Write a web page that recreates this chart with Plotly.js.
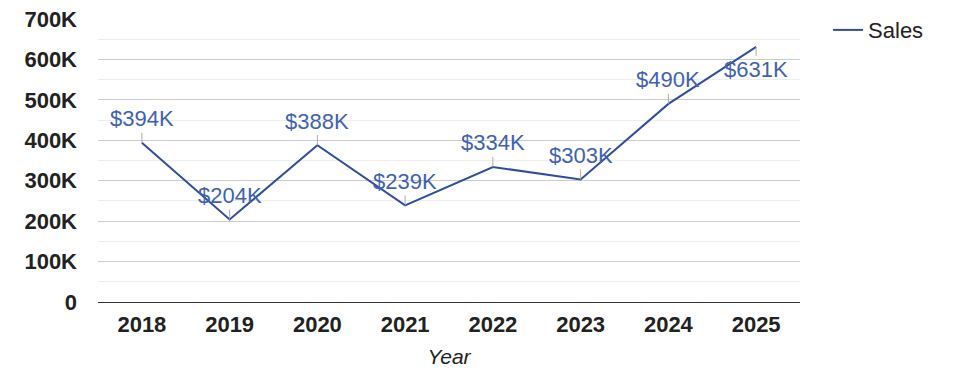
<!DOCTYPE html>
<html>
<head>
<meta charset="utf-8">
<script src="https://cdn.plot.ly/plotly-3.0.1.min.js"></script>
<style>html,body{margin:0;padding:0;background:#fff;}#chart{width:975px;height:378px;}</style>
</head>
<body>
<div id="chart"></div>
<script>
const years = ["2018","2019","2020","2021","2022","2023","2024","2025"];
const sales = [394000, 204000, 388000, 239000, 334000, 303000, 490000, 631000];
const labels = ["$394K","$204K","$388K","$239K","$334K","$303K","$490K","$631K"];
const yTickVals = [0,100000,200000,300000,400000,500000,600000,700000];
const yTickText = ["0","100K","200K","300K","400K","500K","600K","700K"];

const FONT = "Liberation Sans, Arial, sans-serif";
const LINE = "#2f4f9c";
const LABEL = "#3f62b0";

const trace = {
  type: "scatter", mode: "lines", name: "Sales",
  x: years, y: sales,
  line: {color: LINE, width: 2}
};

const annotations = years.map((yr, i) => ({
  x: i, y: sales[i], xref: "x", yref: "y",
  text: labels[i], showarrow: true, arrowhead: 0, arrowwidth: 1, arrowcolor: "#aaaaaa",
  ax: 0, ay: (i === years.length - 1) ? 23 : -24,
  font: {family: FONT, size: 22, color: LABEL}
}));

const layout = {
  width: 975, height: 378,
  margin: {l: 98, r: 175, t: 19, b: 76, autoexpand: false},
  paper_bgcolor: "#fff", plot_bgcolor: "#fff",
  font: {family: FONT, color: "#222"},
  showlegend: true,
  legend: {x: 1.04, y: 1.035, xanchor: "left", yanchor: "top",
           font: {family: FONT, size: 22, color: "#222"}, bgcolor: "rgba(0,0,0,0)"},
  xaxis: {
    type: "category", range: [-0.5, 7.5], showgrid: false, zeroline: false,
    showline: true, linecolor: "#333", linewidth: 1,
    ticks: "", tickfont: {family: FONT, size: 22, color: "#222", weight: "bold"},
    ticklabelstandoff: 3,
    title: {text: "Year", font: {family: FONT, size: 21, color: "#222", style: "italic"}, standoff: 12}
  },
  yaxis: {
    range: [0, 700000], tickvals: yTickVals, ticktext: yTickText,
    showgrid: true, gridcolor: "#cccccc", gridwidth: 1, zeroline: false,
    showline: false, ticks: "",
    minor: {dtick: 50000, showgrid: true, gridcolor: "#eeeeee", gridwidth: 1},
    tickfont: {family: FONT, size: 22, color: "#222", weight: "bold"},
    ticklabelstandoff: 20
  },
  annotations: annotations
};

Plotly.newPlot("chart", [trace], layout, {staticPlot: true, displayModeBar: false});
</script>
</body>
</html>
